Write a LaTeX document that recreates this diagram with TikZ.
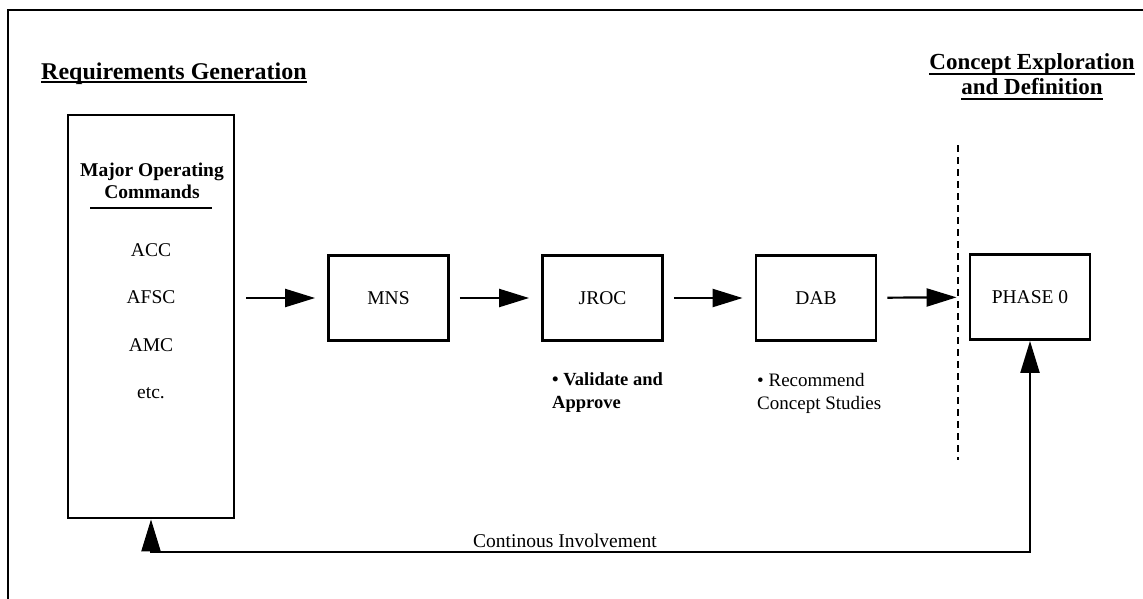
\documentclass[tikz,border=0pt]{standalone}
\usepackage{fontspec}
\setmainfont{Liberation Serif}
\usetikzlibrary{arrows.meta}
\tikzset{
  BoxStyle/.style = { draw, line width=2.8pt, minimum width=120pt,
                      minimum height=85pt, inner sep=0pt,
                      font = \fontsize{19.5}{22}\selectfont },
  TextStyle/.style = { inner sep=0pt, font = \fontsize{19.5}{22}\selectfont },
  NoteStyle/.style = { TextStyle, align=left, anchor=north west,
                       font = \fontsize{19}{23}\selectfont },
  HeadStyle/.style = { inner sep=0pt, anchor=base,
                       font = \fontsize{24}{28}\selectfont\bfseries },
  FlowStyle/.style = { -{Triangle[length=30pt,width=18pt]}, line width=2.2pt,
                       shorten <=10pt, shorten >=12pt },
  LineStyle/.style = { line width=2.2pt } }

\begin{document}
\begin{tikzpicture}[x=1pt,y=-1pt]
  \useasboundingbox (0,0) rectangle (1143,598);
  % outer frame, cut off at the right and bottom
  \draw[line width=2pt] (8,610) -- (8,10) -- (1160,10);

  % headings
  \node[HeadStyle](REQ) at (174,79) {Requirements Generation};
  \draw[LineStyle] ([yshift=-3pt]REQ.base west) -- ([yshift=-3pt]REQ.base east);
  \node[HeadStyle, font=\fontsize{23}{28}\selectfont\bfseries](CE1) at (1032,69) {Concept Exploration};
  \draw[LineStyle] ([yshift=-5pt]CE1.base west) -- ([yshift=-5pt]CE1.base east);
  \node[HeadStyle, font=\fontsize{23}{28}\selectfont\bfseries](CE2) at (1032,94) {and Definition};
  \draw[LineStyle] ([yshift=-5pt]CE2.base west) -- ([yshift=-5pt]CE2.base east);

  % major commands box
  \node[BoxStyle, minimum width=166pt, minimum height=403pt](MAJ) at (151,316.5) {};
  \node[TextStyle, font=\fontsize{19.5}{22}\selectfont\bfseries, align=center](MOC)
    at (152,181) {Major Operating\\Commands};
  \draw[LineStyle] (90,208) -- (212,208);
  \node[TextStyle](ACC) at (151,250) {ACC};
  \node[TextStyle](AFSC) at (151,297) {AFSC};
  \node[TextStyle](AMC) at (151,345) {AMC};
  \node[TextStyle](ETC) at (151,393) {etc.};

  % process chain
  \node[BoxStyle](MNS) at (388.5,298) {MNS};
  \node[BoxStyle](JROC) at (602.5,298) {JROC};
  \node[BoxStyle](DAB) at (816,298) {DAB};
  \node[BoxStyle](PHASE) at (1030,297) {PHASE 0};

  \draw[FlowStyle, shorten <=11pt] (MNS.west -| MAJ.east) -- (MNS.west);
  \draw[FlowStyle] (MNS) -- (JROC);
  \draw[FlowStyle] (JROC) -- (DAB);
  \draw[FlowStyle] (DAB) -- (PHASE);

  \node[NoteStyle, font=\fontsize{18.5}{23}\selectfont\bfseries](VAL) at (552,372)
    {\textbullet\ Validate and\\Approve};
  \node[NoteStyle](REC) at (757,373) {\textbullet\ Recommend\\Concept Studies};

  % phase boundary
  \coordinate (DTOP) at (958,145);
  \coordinate (DBOT) at (958,460);
  \draw[LineStyle, dash pattern=on 7pt off 5pt] (DTOP) -- (DBOT);

  % feedback loop
  \coordinate (FBL) at (MAJ.south |- 0,552);
  \coordinate (FBR) at (PHASE.south |- 0,552);
  \draw[LineStyle, {Triangle[length=32pt,width=19pt]}-{Triangle[length=32pt,width=19pt]}]
    (MAJ.south) -- (FBL) -- (FBR) -- (PHASE.south);
  \node[TextStyle](CI) at (565,541) {Continous Involvement};
\end{tikzpicture}
\end{document}
